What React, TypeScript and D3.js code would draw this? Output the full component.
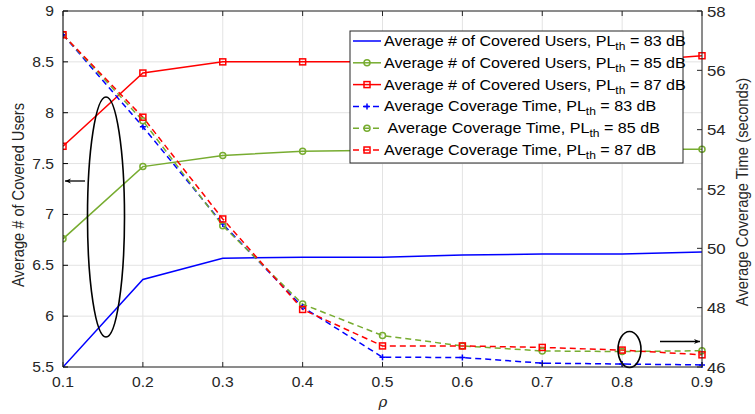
import React from "react";
import * as d3 from "d3";

// Traffic-to-coverage sweep over rho
const rho = [0.1, 0.2, 0.3, 0.4, 0.5, 0.6, 0.7, 0.8, 0.9];

// Average number of covered users (left axis)
const users83 = [5.5, 6.36, 6.57, 6.58, 6.58, 6.6, 6.61, 6.61, 6.63];
const users85 = [6.76, 7.47, 7.58, 7.62, 7.63, 7.63, 7.64, 7.64, 7.64];
const users87 = [7.67, 8.39, 8.5, 8.5, 8.5, 8.5, 8.5, 8.5, 8.56];

// Average coverage time in seconds (right axis)
const time83 = [57.2, 54.1, 50.82, 48.02, 46.33, 46.32, 46.13, 46.1, 46.07];
const time85 = [57.2, 54.3, 50.76, 48.12, 47.06, 46.71, 46.54, 46.52, 46.55];
const time87 = [57.2, 54.42, 50.99, 47.94, 46.71, 46.71, 46.66, 46.57, 46.41];

const xTicks = [0.1, 0.2, 0.3, 0.4, 0.5, 0.6, 0.7, 0.8, 0.9];
const leftTicks = [5.5, 6, 6.5, 7, 7.5, 8, 8.5, 9];
const rightTicks = [46, 48, 50, 52, 54, 56, 58];

const legendLabels = [
  { main: "Average # of Covered Users, PL", th: "83" },
  { main: "Average # of Covered Users, PL", th: "85" },
  { main: "Average # of Covered Users, PL", th: "87" },
  { main: "Average Coverage Time, PL", th: "83" },
  { main: " Average Coverage Time, PL", th: "85" },
  { main: "Average Coverage Time, PL", th: "87" },
];

const BLUE = "#0000ff";
const GREEN = "#77ac30";
const RED = "#ff0000";
const AXIS = "#262626";
const FONT = "'Liberation Sans', Arial, Helvetica, sans-serif";
// horizontal text is set slightly wide
const SX = 1.12;
const LEGEND_SX = 1.15;

type Marker = "none" | "circle" | "square" | "plus";

interface Series {
  values: number[];
  axis: "left" | "right";
  color: string;
  dashed: boolean;
  marker: Marker;
}

const series: Series[] = [
  { values: users83, axis: "left", color: BLUE, dashed: false, marker: "none" },
  { values: users85, axis: "left", color: GREEN, dashed: false, marker: "circle" },
  { values: users87, axis: "left", color: RED, dashed: false, marker: "square" },
  { values: time83, axis: "right", color: BLUE, dashed: true, marker: "plus" },
  { values: time85, axis: "right", color: GREEN, dashed: true, marker: "circle" },
  { values: time87, axis: "right", color: RED, dashed: true, marker: "square" },
];

const W = 755;
const H = 414;
const plot = { left: 63, right: 702, top: 11, bottom: 367 };

function MarkerShape({ kind, x, y, color }: { kind: Marker; x: number; y: number; color: string }) {
  if (kind === "circle") {
    return <circle cx={x} cy={y} r={3} fill="none" stroke={color} strokeWidth={1.5} />;
  }
  if (kind === "square") {
    return <rect x={x - 3} y={y - 3} width={6} height={6} fill="none" stroke={color} strokeWidth={1.5} />;
  }
  if (kind === "plus") {
    return (
      <path d={`M${x - 3},${y}H${x + 3}M${x},${y - 3}V${y + 3}`} stroke={color} strokeWidth={1.5} />
    );
  }
  return null;
}

function WideText({
  x,
  y,
  anchor,
  size,
  children,
}: {
  x: number;
  y: number;
  anchor: "start" | "middle" | "end";
  size: number;
  children: React.ReactNode;
}) {
  return (
    <text transform={`translate(${x},${y}) scale(${SX},1)`} textAnchor={anchor} fontSize={size} fill={AXIS}>
      {children}
    </text>
  );
}

export default function App() {
  const x = d3.scaleLinear().domain([0.1, 0.9]).range([plot.left, plot.right]);
  const yL = d3.scaleLinear().domain([5.5, 9]).range([plot.bottom, plot.top]);
  const yR = d3.scaleLinear().domain([46, 58]).range([plot.bottom, plot.top]);

  const lineFor = (s: Series) =>
    d3
      .line<number>()
      .x((_, i) => x(rho[i]))
      .y((v) => (s.axis === "left" ? yL(v) : yR(v)))(s.values) || "";

  const legend = { x: 350, y: 31, w: 333, h: 132, row: 21.8, first: 41 };

  return (
    <svg
      width={W}
      height={H}
      style={{ position: "absolute", left: 0, top: 0, background: "#fff" }}
      fontFamily={FONT}
    >
      <defs>
        <clipPath id="plotClip">
          <rect x={plot.left} y={plot.top - 4} width={plot.right - plot.left + 4} height={plot.bottom - plot.top + 8} />
        </clipPath>
        <marker id="arrowHead" viewBox="0 0 10 10" refX="10" refY="5" markerWidth="9" markerHeight="6" orient="auto-start-reverse" markerUnits="userSpaceOnUse">
          <path d="M0,1 L10,5 L0,9 L3,5 Z" fill="#000" />
        </marker>
      </defs>

      {/* grid */}
      <g stroke="#e3e3e3" strokeWidth={1}>
        {xTicks.map((t) => (
          <line key={`gx${t}`} x1={x(t)} x2={x(t)} y1={plot.top} y2={plot.bottom} />
        ))}
        {leftTicks.map((t) => (
          <line key={`gy${t}`} x1={plot.left} x2={plot.right} y1={yL(t)} y2={yL(t)} />
        ))}
      </g>

      {/* data lines */}
      <g clipPath="url(#plotClip)">
        {series.map((s, i) => (
          <path
            key={`l${i}`}
            d={lineFor(s)}
            fill="none"
            stroke={s.color}
            strokeWidth={1.5}
            strokeDasharray={s.dashed ? "6 4" : undefined}
          />
        ))}
        {series.map((s, i) =>
          s.values.map((v, j) => (
            <MarkerShape
              key={`m${i}-${j}`}
              kind={s.marker}
              x={x(rho[j])}
              y={s.axis === "left" ? yL(v) : yR(v)}
              color={s.color}
            />
          ))
        )}
      </g>

      {/* annotations */}
      <ellipse cx={106} cy={217} rx={18.5} ry={120} fill="none" stroke="#000" strokeWidth={1.6} />
      <line x1={85} y1={181} x2={65} y2={181} stroke="#000" strokeWidth={1.3} markerEnd="url(#arrowHead)" />
      <ellipse cx={629.5} cy={349.5} rx={11.5} ry={18} fill="none" stroke="#000" strokeWidth={1.6} />
      <line x1={660} y1={341.5} x2={700} y2={341.5} stroke="#000" strokeWidth={1.3} markerEnd="url(#arrowHead)" />

      {/* axes frame */}
      <g fill="none" strokeWidth={1}>
        <line x1={plot.left} x2={plot.right} y1={plot.top} y2={plot.top} stroke={AXIS} />
        <line x1={plot.left} x2={plot.right} y1={plot.bottom} y2={plot.bottom} stroke={AXIS} />
        <line x1={plot.left} x2={plot.left} y1={plot.top} y2={plot.bottom} stroke="#000" />
        <line x1={plot.right} x2={plot.right} y1={plot.top} y2={plot.bottom} stroke={AXIS} />
      </g>

      {/* x ticks */}
      <g stroke={AXIS}>
        {xTicks.map((t) => (
          <g key={`xt${t}`}>
            <line x1={x(t)} x2={x(t)} y1={plot.bottom} y2={plot.bottom - 5} />
            <line x1={x(t)} x2={x(t)} y1={plot.top} y2={plot.top + 5} />
          </g>
        ))}
      </g>
      {xTicks.map((t) => (
        <WideText key={`xl${t}`} x={x(t)} y={387} anchor="middle" size={14}>
          {d3.format(".1f")(t)}
        </WideText>
      ))}

      {/* left ticks */}
      <g stroke="#000">
        {leftTicks.map((t) => (
          <line key={`lt${t}`} x1={plot.left} x2={plot.left + 5} y1={yL(t)} y2={yL(t)} />
        ))}
      </g>
      {leftTicks.map((t) => (
        <WideText key={`ll${t}`} x={plot.left - 9} y={yL(t) + 5} anchor="end" size={14}>
          {d3.format("")(t)}
        </WideText>
      ))}

      {/* right ticks */}
      <g stroke={AXIS}>
        {rightTicks.map((t) => (
          <line key={`rt${t}`} x1={plot.right} x2={plot.right - 5} y1={yR(t)} y2={yR(t)} />
        ))}
      </g>
      {rightTicks.map((t) => (
        <WideText key={`rl${t}`} x={plot.right + 5} y={yR(t) + 5.5} anchor="start" size={15}>
          {t}
        </WideText>
      ))}

      {/* axis titles */}
      <text
        transform={`translate(24,195) rotate(-90) scale(1,${SX})`}
        textAnchor="middle"
        fontSize={14.6}
        fill={AXIS}
      >
        Average # of Covered Users
      </text>
      <text
        transform={`translate(748,192) rotate(-90) scale(1,${SX})`}
        textAnchor="middle"
        fontSize={14.8}
        fill={AXIS}
      >
        Average Coverage Time (seconds)
      </text>
      <text x={383} y={407} textAnchor="middle" fontSize={15} fontStyle="italic" fontFamily="'DejaVu Serif', serif" fill={AXIS}>
        ρ
      </text>

      {/* legend */}
      <g>
        <rect x={legend.x} y={legend.y} width={legend.w} height={legend.h} fill="#fff" stroke={AXIS} strokeWidth={1} />
        {series.map((s, i) => {
          const cy = legend.first + i * legend.row;
          const x0 = legend.x + 3;
          const x1 = legend.x + 31;
          return (
            <g key={`lg${i}`}>
              <line
                x1={x0}
                x2={x1}
                y1={cy}
                y2={cy}
                stroke={s.color}
                strokeWidth={1.5}
                strokeDasharray={s.dashed ? "6 4" : undefined}
              />
              <MarkerShape kind={s.marker} x={(x0 + x1) / 2} y={cy} color={s.color} />
              <text
                transform={`translate(${legend.x + 34},${cy + 5}) scale(${LEGEND_SX},1)`}
                fontSize={14}
                fill="#000"
                xmlSpace="preserve"
              >
                {legendLabels[i].main}
                <tspan dy={4} fontSize={10.5}>th</tspan>
                <tspan dy={-4}>{` = ${legendLabels[i].th} dB`}</tspan>
              </text>
            </g>
          );
        })}
      </g>
    </svg>
  );
}
